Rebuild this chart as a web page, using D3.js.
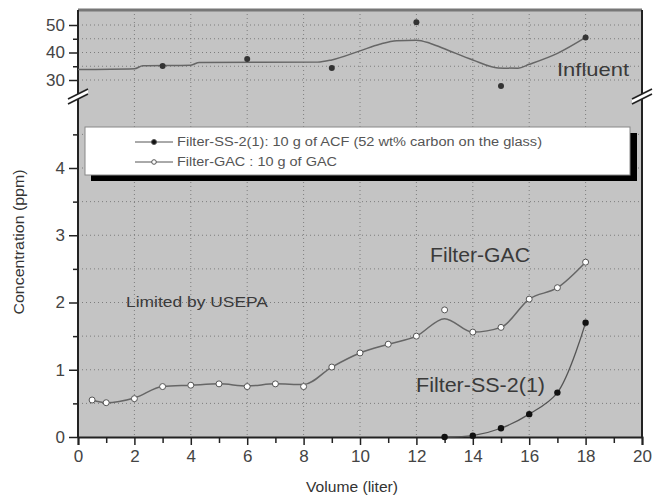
<!DOCTYPE html>
<html>
<head>
<meta charset="utf-8">
<script src="https://cdn.jsdelivr.net/npm/d3@7"></script>
<style>
  body { margin: 0; background: #fff; }
  text { font-family: "Liberation Sans", Arial, sans-serif; }
</style>
</head>
<body>
<svg id="chart" width="669" height="498"></svg>
<script>
// DATA
var xTicks = [0, 2, 4, 6, 8, 10, 12, 14, 16, 18, 20];
var lowTicks = [0, 1, 2, 3, 4];
var highTicks = [30, 40, 50];

var influentX = [3, 6, 9, 12, 15, 18];
var influentY = [35.1, 37.6, 34.4, 51, 27.8, 45.5];
// smooth fit line as drawn in the picture
var influentFitX = [0, 2, 2.3, 4, 4.3, 8.5, 9, 10, 10.7, 11.3, 12, 12.5, 13.1, 14, 14.9, 15.6, 16, 17, 18];
var influentFitY = [33.8, 34.1, 35.2, 35.4, 36.4, 36.5, 37.3, 40.6, 43, 44.3, 44.5, 43.3, 40.9, 37.3, 34.4, 34.3, 35.7, 39.7, 45.5];

var gacX = [0.5, 1, 2, 3, 4, 5, 6, 7, 8, 9, 10, 11, 12, 13, 14, 15, 16, 17, 18];
var gacY = [0.55, 0.51, 0.57, 0.75, 0.77, 0.79, 0.75, 0.79, 0.75, 1.04, 1.25, 1.38, 1.5, 1.89, 1.56, 1.63, 2.05, 2.22, 2.6];
var gacFitY = [0.55, 0.51, 0.58, 0.75, 0.77, 0.79, 0.76, 0.79, 0.78, 1.04, 1.25, 1.38, 1.5, 1.76, 1.56, 1.63, 2.05, 2.22, 2.6];

var ssX = [13, 14, 15, 16, 17, 18];
var ssY = [0.0, 0.02, 0.13, 0.34, 0.66, 1.7];

var legendLabels = ["Filter-SS-2(1): 10 g of ACF (52 wt% carbon on the glass)", "Filter-GAC : 10 g of GAC"];

// LAYOUT
var svg = d3.select("#chart");
var plotL = 78, plotR = 642, plotT = 10, plotB = 437, breakY = 96;

var x = d3.scaleLinear().domain([0, 20]).range([plotL, plotR]);
var yLow = d3.scaleLinear().domain([0, 4]).range([plotB, 168]);
var yHigh = d3.scaleLinear().domain([30, 50]).range([80, 25]);

// plot background
svg.append("rect").attr("x", plotL).attr("y", plotT).attr("width", plotR - plotL).attr("height", plotB - plotT)
  .attr("fill", "#c4c4c4");

// grid
var grid = svg.append("g").attr("stroke", "#7d7d7d").attr("stroke-width", 1).attr("stroke-dasharray", "1,3");
xTicks.slice(1, -1).forEach(function(t) {
  grid.append("line").attr("x1", x(t)).attr("x2", x(t)).attr("y1", plotT).attr("y2", plotB);
});
d3.range(0.5, 5, 0.5).forEach(function(t) {
  grid.append("line").attr("x1", plotL).attr("x2", plotR).attr("y1", yLow(t)).attr("y2", yLow(t));
});
d3.range(30, 51, 5).forEach(function(t) {
  grid.append("line").attr("x1", plotL).attr("x2", plotR).attr("y1", yHigh(t)).attr("y2", yHigh(t));
});

// frame
svg.append("line").attr("x1", plotL).attr("x2", plotR).attr("y1", plotT).attr("y2", plotT)
  .attr("stroke", "#777").attr("stroke-width", 3);
svg.append("line").attr("x1", plotR).attr("x2", plotR).attr("y1", plotT).attr("y2", plotB)
  .attr("stroke", "#222").attr("stroke-width", 2);
svg.append("line").attr("x1", plotL).attr("x2", plotL).attr("y1", plotT).attr("y2", plotB + 1)
  .attr("stroke", "#222").attr("stroke-width", 2);

function styleTicks(g, size) {
  g.selectAll("text").attr("font-size", size).attr("fill", "#444")
    .style("font-family", "Liberation Sans, Arial, sans-serif");
  g.selectAll(".tick line").attr("stroke", "#222").attr("stroke-width", 1.5);
}

// x axis
var xAxis = svg.append("g").attr("transform", "translate(0," + plotB + ")")
  .call(d3.axisBottom(x).tickValues(xTicks).tickSize(8).tickFormat(d3.format("d")));
xAxis.select(".domain").attr("stroke", "#222").attr("stroke-width", 2);
styleTicks(xAxis, 17);
xAxis.selectAll("text").attr("dy", "0.85em");
svg.append("g").attr("transform", "translate(0," + plotB + ")")
  .call(d3.axisBottom(x).tickValues(d3.range(1, 20, 2)).tickSize(6).tickFormat(""))
  .call(function(g) { g.select(".domain").remove(); g.selectAll("line").attr("stroke", "#222").attr("stroke-width", 1.5); });

// y axis lower
var yAxisL = svg.append("g").attr("transform", "translate(" + plotL + ",0)")
  .call(d3.axisLeft(yLow).tickValues(lowTicks).tickSize(9).tickPadding(4).tickFormat(d3.format("d")));
yAxisL.select(".domain").remove();
styleTicks(yAxisL, 17);
svg.append("g").attr("transform", "translate(" + plotL + ",0)")
  .call(d3.axisLeft(yLow).tickValues(d3.range(0.5, 5, 1)).tickSize(5).tickFormat(""))
  .call(function(g) { g.select(".domain").remove(); g.selectAll("line").attr("stroke", "#222").attr("stroke-width", 1.5); });

// y axis upper
var yAxisH = svg.append("g").attr("transform", "translate(" + plotL + ",0)")
  .call(d3.axisLeft(yHigh).tickValues(highTicks).tickSize(9).tickPadding(4).tickFormat(d3.format("d")));
yAxisH.select(".domain").remove();
styleTicks(yAxisH, 17);
svg.append("g").attr("transform", "translate(" + plotL + ",0)")
  .call(d3.axisLeft(yHigh).tickValues([35, 45]).tickSize(5).tickFormat(""))
  .call(function(g) { g.select(".domain").remove(); g.selectAll("line").attr("stroke", "#222").attr("stroke-width", 1.5); });

// axis break marks
[plotL, plotR].forEach(function(bx) {
  var b = svg.append("g").attr("transform", "translate(" + bx + "," + breakY + ")");
  b.append("path").attr("d", "M-10,3 L10,-7 L10,-2 L-10,8 Z").attr("fill", "#fff");
  b.append("line").attr("x1", -10).attr("y1", 3).attr("x2", 10).attr("y2", -7).attr("stroke", "#222").attr("stroke-width", 1.6);
  b.append("line").attr("x1", -10).attr("y1", 8).attr("x2", 10).attr("y2", -2).attr("stroke", "#222").attr("stroke-width", 1.6);
});

// axis titles
svg.append("text").attr("transform", "translate(24,242) rotate(-90)").attr("text-anchor", "middle")
  .attr("font-size", 15).attr("fill", "#333").attr("textLength", 145).attr("lengthAdjust", "spacingAndGlyphs")
  .text("Concentration (ppm)");
svg.append("text").attr("x", 352).attr("y", 492).attr("text-anchor", "middle")
  .attr("font-size", 15).attr("fill", "#333").attr("textLength", 92).attr("lengthAdjust", "spacingAndGlyphs")
  .text("Volume (liter)");

// influent
var lineHigh = d3.line().x(function(d) { return x(d[0]); }).y(function(d) { return yHigh(d[1]); }).curve(d3.curveMonotoneX);
svg.append("path").datum(d3.zip(influentFitX, influentFitY)).attr("d", lineHigh)
  .attr("fill", "none").attr("stroke", "#666").attr("stroke-width", 1.5);
svg.selectAll(".inf").data(d3.zip(influentX, influentY)).enter().append("circle")
  .attr("cx", function(d) { return x(d[0]); }).attr("cy", function(d) { return yHigh(d[1]); })
  .attr("r", 3).attr("fill", "#333");

// lower series
var lineLow = d3.line().x(function(d) { return x(d[0]); }).y(function(d) { return yLow(d[1]); }).curve(d3.curveMonotoneX);
svg.append("path").datum(d3.zip(gacX, gacFitY)).attr("d", lineLow)
  .attr("fill", "none").attr("stroke", "#666").attr("stroke-width", 1.5);
svg.append("path").datum(d3.zip(ssX, ssY)).attr("d", lineLow.curve(d3.curveCatmullRom))
  .attr("fill", "none").attr("stroke", "#555").attr("stroke-width", 1.3);
svg.selectAll(".gac").data(d3.zip(gacX, gacY)).enter().append("circle")
  .attr("cx", function(d) { return x(d[0]); }).attr("cy", function(d) { return yLow(d[1]); })
  .attr("r", 3).attr("fill", "#fff").attr("stroke", "#555").attr("stroke-width", 1);
svg.selectAll(".ss").data(d3.zip(ssX, ssY)).enter().append("circle")
  .attr("cx", function(d) { return x(d[0]); }).attr("cy", function(d) { return yLow(d[1]); })
  .attr("r", 3.2).attr("fill", "#111");

// annotations
function note(tx, ty, size, len, s) {
  svg.append("text").attr("x", tx).attr("y", ty).attr("font-size", size).attr("fill", "#3a3a3a")
    .attr("textLength", len).attr("lengthAdjust", "spacingAndGlyphs").text(s);
}
note(557, 76, 19, 72, "Influent");
note(430, 262, 20, 100, "Filter-GAC");
note(416, 392, 20, 129, "Filter-SS-2(1)");
note(126, 307, 15, 142, "Limited by USEPA");

// legend
var lg = svg.append("g");
lg.append("rect").attr("x", 91).attr("y", 133).attr("width", 546).attr("height", 48).attr("fill", "#000");
lg.append("rect").attr("x", 85).attr("y", 127).attr("width", 545).attr("height", 48)
  .attr("fill", "#fff").attr("stroke", "#888").attr("stroke-width", 1);
var legendLen = [365, 160];
legendLabels.forEach(function(s, i) {
  var ly = 142 + i * 20;
  lg.append("line").attr("x1", 135).attr("x2", 173).attr("y1", ly).attr("y2", ly).attr("stroke", "#555").attr("stroke-width", 1);
  lg.append("circle").attr("cx", 154).attr("cy", ly).attr("r", i === 0 ? 2.5 : 2.3)
    .attr("fill", i === 0 ? "#111" : "#fff").attr("stroke", "#555").attr("stroke-width", 1);
  lg.append("text").attr("x", 177).attr("y", ly + 4).attr("font-size", 12).attr("fill", "#555")
    .attr("textLength", legendLen[i]).attr("lengthAdjust", "spacingAndGlyphs").text(s);
});
</script>
</body>
</html>
